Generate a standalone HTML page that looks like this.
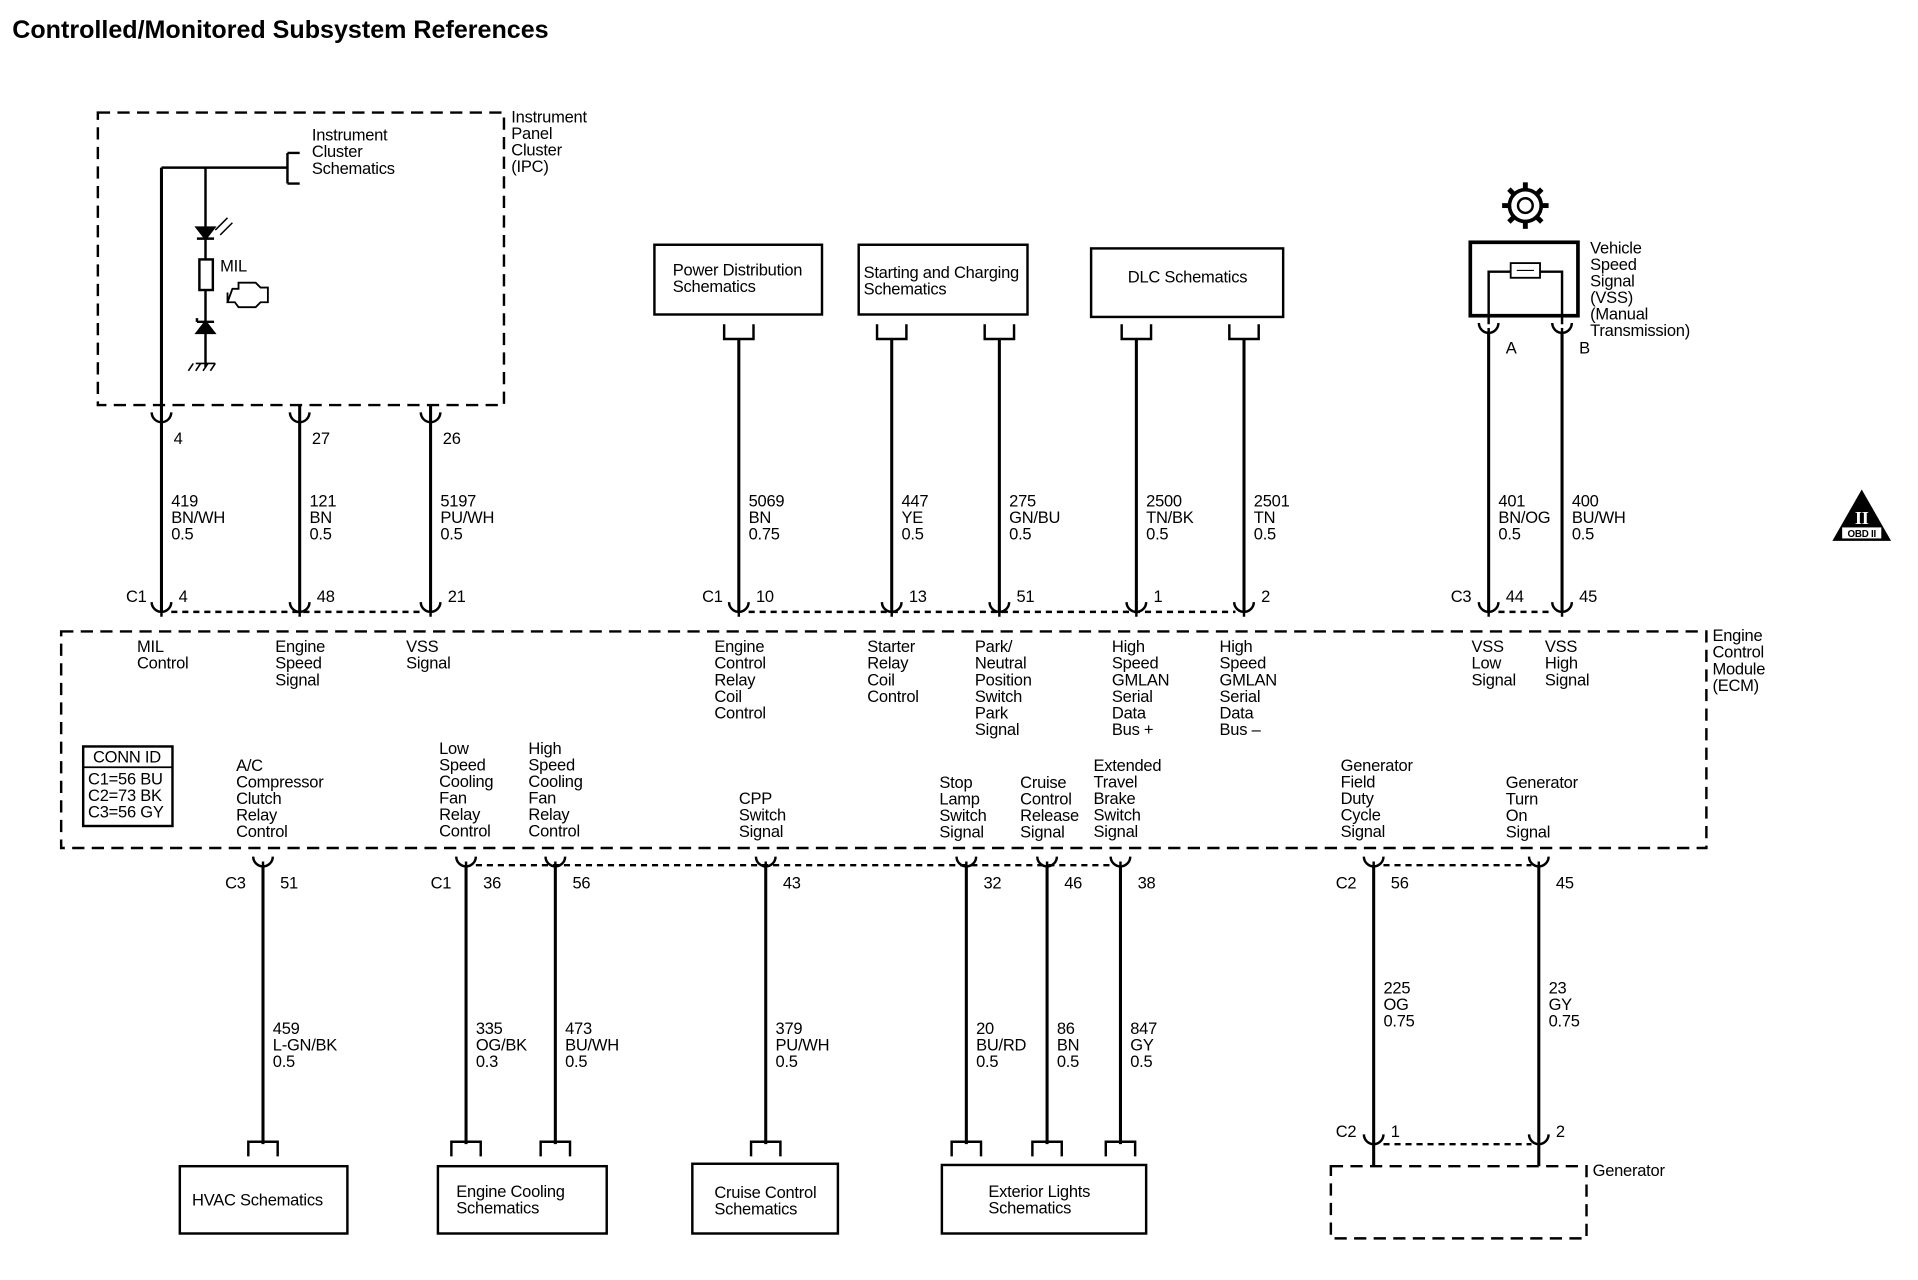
<!DOCTYPE html>
<html><head><meta charset="utf-8"><style>
html,body{margin:0;padding:0;background:#fff;}
svg{display:block;}
text{font-family:"Liberation Sans",sans-serif;font-size:13.5px;fill:#000;letter-spacing:-0.2px;}
</style></head><body>
<svg id="s" width="1918" height="1280" viewBox="0 0 1568 1046" preserveAspectRatio="none" xmlns="http://www.w3.org/2000/svg">
<g stroke="#000" fill="none" stroke-width="2">
<rect x="80" y="92" width="332" height="239" stroke-dasharray="10,6"/>
<rect x="50" y="516" width="1345" height="177" stroke-dasharray="10,6"/>
<rect x="535" y="200" width="137" height="57"/>
<rect x="702" y="200" width="138" height="57"/>
<rect x="892" y="203" width="157" height="56"/>
<rect x="147" y="953" width="137" height="55"/>
<rect x="358" y="953" width="138" height="55"/>
<rect x="566" y="951" width="119" height="57"/>
<rect x="770" y="952" width="167" height="56"/>
<rect x="1088" y="953" width="209" height="59" stroke-dasharray="10,6"/>
<rect x="1202" y="198" width="88" height="60" stroke-width="3"/>
<path d="M1217,265 V222 H1235 M1259,222 H1277 V265" />
<rect x="1235" y="215" width="24" height="12" stroke-width="1.5"/>
<path d="M1240,221 h14" stroke-width="1"/>
<path d="M132,137 H235 M235,125 V150 M235,125 h10 M235,150 h10"/>
<path d="M168,137 V212 M168,237 V300"/>
<rect x="163" y="212" width="11" height="25"/>
<path d="M161,186 h14 l-7,9 z M161,195 h14" fill="#000"/>
<path d="M176,188 l10,-10 M180,192 l10,-10" stroke-width="1.2"/>
<path d="M161,272 h14 l-7,-9 z M161,263 h14 M161,263 v-3" fill="#000"/>
<path d="M160,297 h16 M158,297 l-4,6 M164,297 l-4,6 M170,297 l-4,6 M176,297 l-4,6" stroke-width="1.3"/>
<path d="M190,236 h5 v-5 h14 l4,4 h6 v12 h-6 l-4,4 h-14 l-3,-4 h-6 z M186,239 v8" stroke-width="1.5"/>
<path d="M140,500 H345 M612,500 H1010 M1225,500 H1270" stroke-dasharray="5,4"/>
<path d="M389,707 H910 M1131,707 H1252 M1131,935 H1252" stroke-dasharray="5,4"/>
</g>
<g id="w" stroke="#000" stroke-width="2.5" fill="none"></g>
<g id="t"></g>
<g transform="translate(1247,168)">
<circle r="13" stroke="#000" stroke-width="3" fill="none"/>
<circle r="6" stroke="#000" stroke-width="2" fill="none"/>
<g id="teeth" stroke="#000" stroke-width="4"></g>
</g>
<g transform="translate(1522,418)">
<path d="M0,-18 L24,24 H-24 Z" fill="#000"/>
<rect x="-16" y="13" width="32" height="9" fill="#fff"/>
<text x="0" y="10" text-anchor="middle" style="fill:#fff;font-size:15px;font-family:'Liberation Serif',serif;font-weight:bold">II</text>
<text x="0" y="21" text-anchor="middle" style="font-size:8px;font-weight:bold">OBD II</text>
</g>
</svg>
<script>
var NS="http://www.w3.org/2000/svg",W=document.getElementById('w'),T=document.getElementById('t');
function p(d,sw){var e=document.createElementNS(NS,'path');e.setAttribute('d',d);if(sw)e.setAttribute('stroke-width',sw);W.appendChild(e);}
function tx(x,y,s,opt){var lines=s.split('|');lines.forEach(function(l,i){var e=document.createElementNS(NS,'text');e.setAttribute('x',x);e.setAttribute('y',y+i*13.5);if(opt&&opt.b)e.setAttribute('font-weight','bold');if(opt&&opt.fs){e.style.fontSize=opt.fs+'px';e.style.letterSpacing='0px';}if(opt&&opt.a)e.setAttribute('text-anchor',opt.a);e.textContent=l;T.appendChild(e);});}
function fem(x,y){p('M'+(x-8)+','+(y-8)+' A8,8 0 0 0 '+(x+8)+','+(y-8),2);p('M'+x+','+(y-4)+' V'+(y+4),2);}
function maleUp(x,y){p('M'+(x-12)+','+y+' V'+(y+12)+' H'+(x+12)+' V'+y,2);}
function maleDn(x,y){p('M'+(x-12)+','+(y+12)+' V'+y+' H'+(x+12)+' V'+(y+12),2);}
var g=document.getElementById('teeth');for(var i=0;i<8;i++){var a=i*Math.PI/4,e=document.createElementNS(NS,'line');e.setAttribute('x1',13*Math.cos(a));e.setAttribute('y1',13*Math.sin(a));e.setAttribute('x2',19*Math.cos(a));e.setAttribute('y2',19*Math.sin(a));g.appendChild(e);}
[[132,'4','419|BN/WH|0.5','4','MIL|Control'],[245,'27','121|BN|0.5','48','Engine|Speed|Signal'],[352,'26','5197|PU/WH|0.5','21','VSS|Signal']].forEach(function(w){
 p('M'+w[0]+','+(w[0]==132?137:331)+' V500');fem(w[0],345);fem(w[0],500);
 tx(w[0]+10,363,w[1]);tx(w[0]+8,414,w[2]);tx(w[0]+14,492,w[3]);tx(w[0]-20,533,w[4]);});
[[604,'5069|BN|0.75','10','Engine|Control|Relay|Coil|Control'],[729,'447|YE|0.5','13','Starter|Relay|Coil|Control'],[817,'275|GN/BU|0.5','51','Park/|Neutral|Position|Switch|Park|Signal'],[929,'2500|TN/BK|0.5','1','High|Speed|GMLAN|Serial|Data|Bus +'],[1017,'2501|TN|0.5','2','High|Speed|GMLAN|Serial|Data|Bus \u2013']].forEach(function(w){
 maleUp(w[0],265);p('M'+w[0]+',277 V500');fem(w[0],500);tx(w[0]+8,414,w[1]);tx(w[0]+14,492,w[2]);tx(w[0]-20,533,w[3]);});
[[1217,'401|BN/OG|0.5','44','VSS|Low|Signal','A'],[1277,'400|BU/WH|0.5','45','VSS|High|Signal','B']].forEach(function(w){
 fem(w[0],272);p('M'+w[0]+',272 V500');fem(w[0],500);tx(w[0]+8,414,w[1]);tx(w[0]+14,492,w[2]);tx(w[0]-14,533,w[3]);tx(w[0]+14,289,w[4]);});
tx(103,492,'C1');tx(574,492,'C1');tx(1186,492,'C3');
[[215,'51','459|L-GN/BK|0.5','A/C|Compressor|Clutch|Relay|Control',630],[381,'36','335|OG/BK|0.3','Low|Speed|Cooling|Fan|Relay|Control',616],[454,'56','473|BU/WH|0.5','High|Speed|Cooling|Fan|Relay|Control',616],[626,'43','379|PU/WH|0.5','CPP|Switch|Signal',657],[790,'32','20|BU/RD|0.5','Stop|Lamp|Switch|Signal',644],[856,'46','86|BN|0.5','Cruise|Control|Release|Signal',644],[916,'38','847|GY|0.5','Extended|Travel|Brake|Switch|Signal',630]].forEach(function(w){
 fem(w[0],708);p('M'+w[0]+',708 V935');maleDn(w[0],933);tx(w[0]+14,726,w[1]);tx(w[0]+8,845,w[2]);tx(w[0]-22,w[4],w[3]);});
[[1123,'56','225|OG|0.75','1','Generator|Field|Duty|Cycle|Signal',630],[1258,'45','23|GY|0.75','2','Generator|Turn|On|Signal',644]].forEach(function(w){
 fem(w[0],708);fem(w[0],935);p('M'+w[0]+',708 V953');tx(w[0]+14,726,w[1]);tx(w[0]+8,812,w[2]);tx(w[0]+14,929,w[3]);tx(w[0]-27,w[5],w[4]);});
tx(184,726,'C3');tx(352,726,'C1');tx(1092,726,'C2');tx(1092,929,'C2');
tx(10,31,'Controlled/Monitored Subsystem References',{b:1,fs:20.5});
tx(418,100,'Instrument|Panel|Cluster|(IPC)');tx(255,115,'Instrument|Cluster|Schematics');tx(180,222,'MIL');
tx(1400,524,'Engine|Control|Module|(ECM)');tx(1300,207,'Vehicle|Speed|Signal|(VSS)|(Manual|Transmission)');
tx(550,225,'Power Distribution|Schematics');tx(706,227,'Starting and Charging|Schematics');tx(922,231,'DLC Schematics');
tx(157,985,'HVAC Schematics');tx(373,978,'Engine Cooling|Schematics');tx(584,979,'Cruise Control|Schematics');tx(808,978,'Exterior Lights|Schematics');tx(1302,961,'Generator');
var r=document.createElementNS(NS,'rect');r.setAttribute('x',68);r.setAttribute('y',610);r.setAttribute('width',73);r.setAttribute('height',65);r.setAttribute('fill','none');r.setAttribute('stroke','#000');r.setAttribute('stroke-width',2);T.appendChild(r);
p('M68,627 H141',1.5);tx(76,623,'CONN ID');tx(72,641,'C1=56 BU|C2=73 BK|C3=56 GY');
</script>
</body></html>
